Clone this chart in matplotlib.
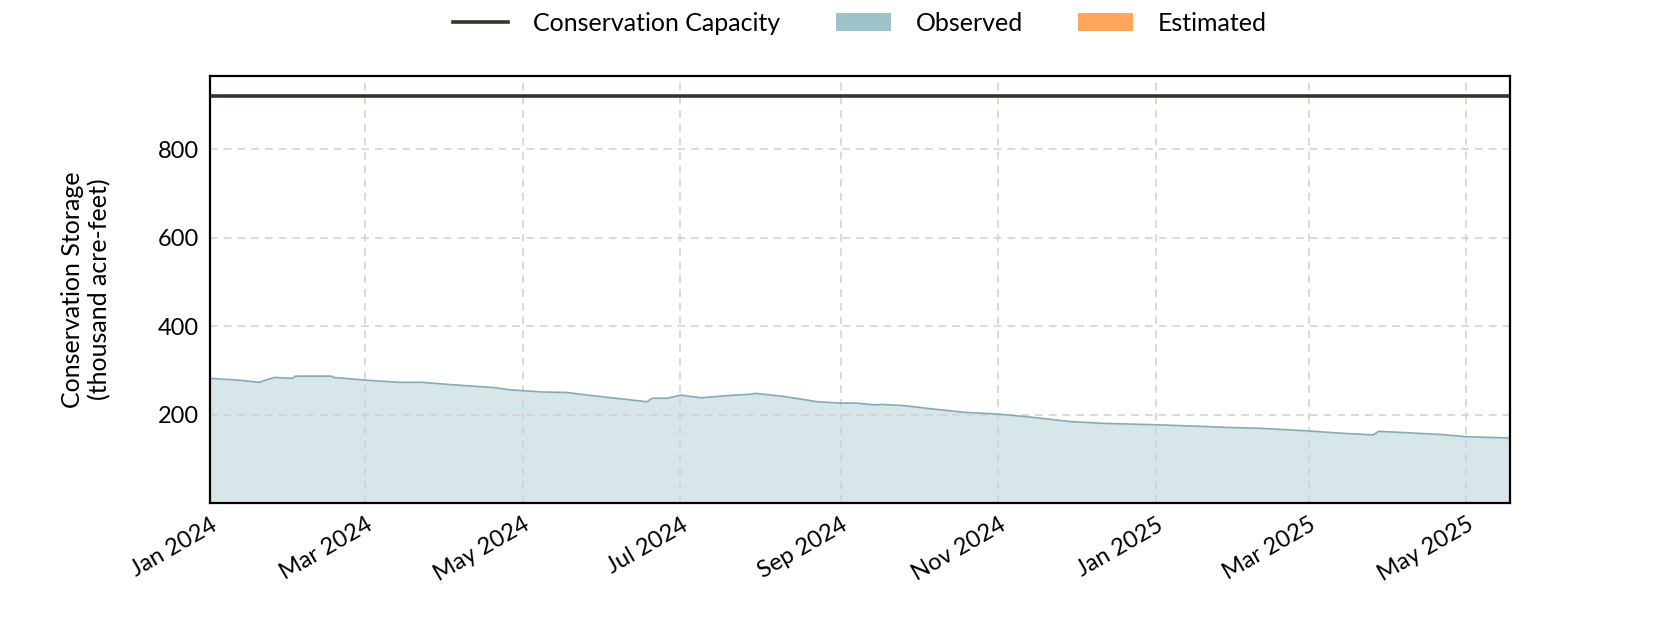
import numpy as np
import pandas as pd
import matplotlib
matplotlib.use("Agg")
import matplotlib.pyplot as plt
import matplotlib.dates as mdates
from matplotlib.patches import Patch
from matplotlib.lines import Line2D

plt.rcParams['font.family'] = ['Lato', 'DejaVu Sans']

# storage values (thousand acre-feet)
obs_dates = ["2024-01-01", "2024-01-12", "2024-01-20", "2024-01-22", "2024-01-26",
             "2024-02-02", "2024-02-03", "2024-02-12", "2024-02-17", "2024-02-18",
             "2024-03-01", "2024-03-14", "2024-03-23", "2024-04-05", "2024-04-20",
             "2024-04-26", "2024-05-09", "2024-05-18", "2024-05-26", "2024-06-09",
             "2024-06-18", "2024-06-20", "2024-06-26", "2024-07-01", "2024-07-09",
             "2024-07-15", "2024-07-22", "2024-07-28", "2024-07-30", "2024-08-10",
             "2024-08-23", "2024-09-01", "2024-09-07", "2024-09-14", "2024-09-17",
             "2024-09-26", "2024-10-06", "2024-10-19", "2024-11-01", "2024-11-14",
             "2024-11-29", "2024-12-12", "2025-01-01", "2025-01-20", "2025-01-28",
             "2025-02-10", "2025-03-01", "2025-03-13", "2025-03-26", "2025-03-28",
             "2025-04-08", "2025-04-21", "2025-05-01", "2025-05-06", "2025-05-18"]
obs_values = [282, 278, 273, 277, 284,
              282, 287, 287, 287, 284,
              278, 273, 273, 267, 261,
              256, 251, 250, 244, 235,
              229, 237, 237, 244, 238,
              241, 244, 246, 248, 241,
              229, 226, 226, 222, 223,
              220, 213, 205, 201, 194,
              184, 180, 177, 173, 171,
              169, 163, 158, 154, 162,
              159, 155, 150, 149, 147]

capacity = 920

dates = pd.to_datetime(obs_dates)
vals = np.array(obs_values)

obs_color = '#9dc2c9'
est_color = '#ffa65a'
cap_color = '#3a3326'

fig = plt.figure(figsize=(16.8, 6.3), dpi=100)
ax = fig.add_axes([0.125, 0.2016, 0.774, 0.6778])

ax.fill_between(dates, 0, vals, color=obs_color, alpha=0.4, linewidth=0)
ax.plot(dates, vals, color='#86aab1', linewidth=1.2)
ax.axhline(capacity, color=cap_color, linewidth=2.6)

ax.set_xlim(dates[0], dates[-1])
ax.set_ylim(0, capacity * 1.05)
ax.set_yticks([200, 400, 600, 800])

ax.xaxis.set_major_locator(mdates.MonthLocator(bymonth=[1, 3, 5, 7, 9, 11]))
ax.xaxis.set_major_formatter(mdates.DateFormatter('%b %Y'))
plt.setp(ax.get_xticklabels(), rotation=30, ha='right', rotation_mode='anchor')

ax.grid(True, linestyle=(0, (5, 4)), color='#d0d0d0', linewidth=1.1)
ax.set_axisbelow('line')
ax.tick_params(length=0, labelsize=17, pad=8)
for s in ax.spines.values():
    s.set_linewidth(1.6)
    s.set_color('black')

ax.set_ylabel("Conservation Storage\n(thousand acre-feet)", fontsize=18)
ax.yaxis.set_label_coords(-0.076, 0.5)

handles = [Line2D([0], [0], color=cap_color, linewidth=2.6),
           Patch(facecolor=obs_color), Patch(facecolor=est_color)]
labels = ["Conservation Capacity", "Observed", "Estimated"]
fig.legend(handles, labels, loc='center', bbox_to_anchor=(0.512, 0.963), ncol=3,
           frameon=False, fontsize=18, handlelength=2.2, columnspacing=2.2, handletextpad=1.0)

fig.savefig("out.png", dpi=100)
